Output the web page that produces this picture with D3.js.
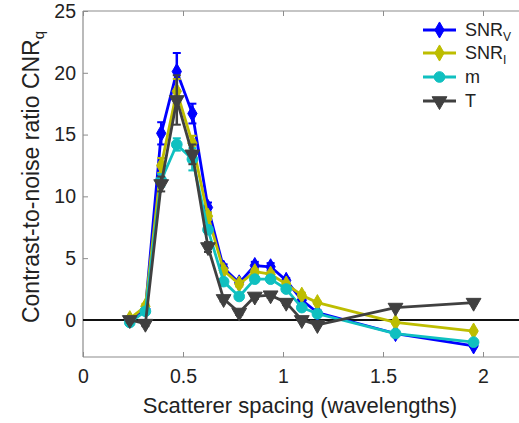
<!DOCTYPE html>
<html>
<head>
<meta charset="utf-8">
<script src="https://cdn.jsdelivr.net/npm/d3@7"></script>
<style>
  body { margin: 0; background: #fff; }
  svg { display: block; font-family: "Liberation Sans", Arial, sans-serif; }
</style>
</head>
<body>
<div id="chart"></div>
<script>
// spacing values (wavelengths)
const spacing = [0.234, 0.312, 0.391, 0.469, 0.547, 0.625, 0.703, 0.781, 0.859, 0.938, 1.016, 1.094, 1.172, 1.5625, 1.953];

const snrV = [0.0, 0.9, 15.1, 20.1, 16.7, 9.1, 4.2, 3.0, 4.4, 4.3, 3.2, 1.6, 0.6, -1.1, -2.1];
const snrI = [0.1, 1.1, 12.5, 18.5, 14.3, 8.4, 4.0, 2.9, 3.9, 3.7, 2.9, 2.0, 1.4, -0.2, -0.9];
const mVals = [-0.2, 0.7, 11.3, 14.2, 13.0, 7.3, 3.1, 1.9, 3.3, 3.3, 2.5, 1.0, 0.5, -1.1, -1.8];
const tVals = [0.0, -0.3, 11.0, 17.8, 13.4, 5.9, 1.7, 0.6, 1.9, 2.0, 1.4, 0.0, -0.4, 1.0, 1.4];

const errV = [0.2, 0.2, 0.9, 1.5, 0.8, 0.4, 0.3, 0.2, 0.3, 0.3, 0.2, 0.2, 0.2, 0.1, 0.1];
const errI = [0.2, 0.2, 0.6, 1.0, 0.6, 0.3, 0.2, 0.2, 0.2, 0.2, 0.2, 0.2, 0.1, 0.1, 0.1];
const errM = [0.2, 0.2, 0.5, 0.5, 0.9, 0.3, 0.2, 0.2, 0.2, 0.2, 0.2, 0.1, 0.1, 0.1, 0.1];
const errT = [0.2, 0.2, 0.6, 2.0, 0.8, 0.4, 0.2, 0.2, 0.2, 0.2, 0.2, 0.1, 0.1, 0.1, 0.1];

const xTicks = [0, 0.5, 1, 1.5, 2];
const yTicks = [0, 5, 10, 15, 20, 25];

const series = [
    { name: "SNR", sub: "V", values: snrV, err: errV, color: "#0000ff", marker: "diamond" },
    { name: "SNR", sub: "I", values: snrI, err: errI, color: "#bdbd00", marker: "diamond" },
    { name: "m", sub: "", values: mVals, err: errM, color: "#10c0c0", marker: "circle" },
    { name: "T", sub: "", values: tVals, err: errT, color: "#404040", marker: "triangle" }
];

const width = 519, height = 423;
const margin = { top: 11, left: 83, bottom: 66 };

const svg = d3.select("#chart").append("svg")
    .attr("width", width)
    .attr("height", height);

const x = d3.scaleLinear().domain([0, 2.2]).range([margin.left, margin.left + 440]);
const y = d3.scaleLinear().domain([-3, 25]).range([height - margin.bottom, margin.top]);

const frameColor = "#8c8c8c";

// frame
svg.append("line").attr("x1", x(0)).attr("x2", x(0)).attr("y1", y(-3)).attr("y2", y(25))
    .attr("stroke", frameColor).attr("stroke-width", 1.2);
svg.append("line").attr("x1", x(0)).attr("x2", width).attr("y1", y(-3)).attr("y2", y(-3))
    .attr("stroke", frameColor).attr("stroke-width", 1.2);
svg.append("line").attr("x1", x(0)).attr("x2", width).attr("y1", y(25)).attr("y2", y(25))
    .attr("stroke", frameColor).attr("stroke-width", 1.2);

// axes (ticks pointing inward)
const xAxis = svg.append("g")
    .attr("transform", `translate(0,${y(-3)})`)
    .call(d3.axisBottom(x).tickValues(xTicks).tickSize(-5).tickPadding(12).tickFormat(d3.format("")));
xAxis.select(".domain").remove();
xAxis.selectAll("line").attr("stroke", frameColor);
xAxis.selectAll("text").attr("font-size", 19.5).attr("fill", "#222")
    .attr("font-family", "Liberation Sans, Arial, sans-serif");

const xTop = svg.append("g")
    .attr("transform", `translate(0,${y(25)})`)
    .call(d3.axisTop(x).tickValues(xTicks).tickSize(-5).tickFormat(""));
xTop.select(".domain").remove();
xTop.selectAll("line").attr("stroke", frameColor);

const yAxis = svg.append("g")
    .attr("transform", `translate(${x(0)},0)`)
    .call(d3.axisLeft(y).tickValues(yTicks).tickSize(-5).tickPadding(7));
yAxis.select(".domain").remove();
yAxis.selectAll("line").attr("stroke", frameColor);
yAxis.selectAll("text").attr("font-size", 19.5).attr("fill", "#222")
    .attr("font-family", "Liberation Sans, Arial, sans-serif");

// zero line
svg.append("line")
    .attr("x1", x(0)).attr("x2", width)
    .attr("y1", y(0)).attr("y2", y(0))
    .attr("stroke", "#111").attr("stroke-width", 2);

// marker symbols
function symbolFor(kind, size) {
    if (kind === "diamond") return d3.symbol().type(d3.symbolDiamond).size(size || 75)();
    if (kind === "circle") return d3.symbol().type(d3.symbolCircle).size(size || 90)();
    return d3.symbol().type(d3.symbolTriangle).size(size || 95)();
}

const line = d3.line().x((d, i) => x(spacing[i])).y(d => y(d));

series.forEach(s => {
    const g = svg.append("g");

    // error bars
    s.values.forEach((v, i) => {
        const e = s.err[i];
        const cx = x(spacing[i]);
        g.append("line").attr("x1", cx).attr("x2", cx)
            .attr("y1", y(v - e)).attr("y2", y(v + e))
            .attr("stroke", s.color).attr("stroke-width", 2.5);
        [v - e, v + e].forEach(ev => {
            g.append("line").attr("x1", cx - 4).attr("x2", cx + 4)
                .attr("y1", y(ev)).attr("y2", y(ev))
                .attr("stroke", s.color).attr("stroke-width", 2);
        });
    });

    g.append("path")
        .datum(s.values)
        .attr("fill", "none")
        .attr("stroke", s.color)
        .attr("stroke-width", 2.8)
        .attr("stroke-linejoin", "round")
        .attr("d", line);

    g.selectAll(".mk")
        .data(s.values)
        .enter().append("path")
        .attr("d", symbolFor(s.marker))
        .attr("transform", (d, i) => {
            const rot = s.marker === "triangle" ? " rotate(180)" : "";
            return `translate(${x(spacing[i])},${y(d)})${rot}`;
        })
        .attr("fill", s.color)
        .attr("stroke", s.color)
        .attr("stroke-width", 1);
});

// legend
const legend = svg.append("g");
const rowY = [30, 53, 77, 101];
series.forEach((s, i) => {
    const ly = rowY[i];
    legend.append("line").attr("x1", 423).attr("x2", 456).attr("y1", ly).attr("y2", ly)
        .attr("stroke", s.color).attr("stroke-width", 2.8);
    legend.append("path")
        .attr("d", symbolFor(s.marker))
        .attr("transform", `translate(439.5,${ly})` + (s.marker === "triangle" ? " rotate(180)" : ""))
        .attr("fill", s.color).attr("stroke", s.color);
    const t = legend.append("text")
        .attr("x", 465).attr("y", ly + 6)
        .attr("font-size", 18).attr("fill", "#222");
    t.append("tspan").text(s.name);
    if (s.sub) {
        t.append("tspan").attr("font-size", 12).attr("dy", 5).text(s.sub);
    }
});

// axis titles
svg.append("text")
    .attr("x", 300).attr("y", 413)
    .attr("text-anchor", "middle")
    .attr("font-size", 22).attr("fill", "#222")
    .text("Scatterer spacing (wavelengths)");

const yl = svg.append("text")
    .attr("transform", `translate(39,177) rotate(-90)`)
    .attr("text-anchor", "middle")
    .attr("font-size", 23).attr("fill", "#222");
yl.append("tspan").text("Contrast-to-noise ratio CNR");
yl.append("tspan").attr("font-size", 15).attr("dy", 5).text("q");
</script>
</body>
</html>
